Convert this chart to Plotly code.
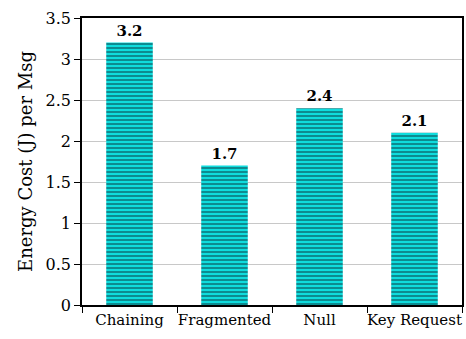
import plotly.graph_objects as go

categories = ["Chaining", "Fragmented", "Null", "Key Request"]
energy_cost = [3.2, 1.7, 2.4, 2.1]
value_labels = ["3.2", "1.7", "2.4", "2.1"]
y_ticks = [0, 0.5, 1, 1.5, 2, 2.5, 3, 3.5]
y_tick_labels = ["0", "0.5", "1", "1.5", "2", "2.5", "3", "3.5"]

serif = "'DejaVu Serif', serif"

fig = go.Figure(
    go.Bar(
        x=categories,
        y=energy_cost,
        width=0.49,
        text=value_labels,
        textposition="outside",
        cliponaxis=False,
        textfont=dict(family=serif, size=15, color="black", weight="bold"),
        marker=dict(
            color="#10f0f0",
            line=dict(width=0),
            pattern=dict(shape="-", fgcolor="#0a2530", bgcolor="#10f0f0",
                         size=4, solidity=0.6, fillmode="overlay"),
        ),
    )
)

fig.update_layout(
    width=466,
    height=339,
    margin=dict(l=82, r=4, t=18, b=34),
    paper_bgcolor="white",
    plot_bgcolor="white",
    showlegend=False,
    font=dict(family=serif, color="black"),
)

fig.update_xaxes(
    showline=True, linecolor="black", linewidth=1.5, mirror=True,
    ticks="outside", tickson="boundaries", ticklen=6, tickcolor="black",
    tickangle=0, automargin=False,
    tickfont=dict(family=serif, size=15), showgrid=False,
)
fig.update_yaxes(
    range=[0, 3.5], tickmode="array", tickvals=y_ticks, ticktext=y_tick_labels,
    showline=True, linecolor="black", linewidth=1.5, mirror=True,
    ticks="outside", ticklen=6, tickcolor="black", automargin=False,
    tickfont=dict(family=serif, size=16),
    showgrid=True, gridcolor="#c8c8c8", gridwidth=1, zeroline=False,
    title=dict(text="Energy Cost (J) per Msg", font=dict(family=serif, size=18), standoff=8),
)

fig.write_html("out.html")
